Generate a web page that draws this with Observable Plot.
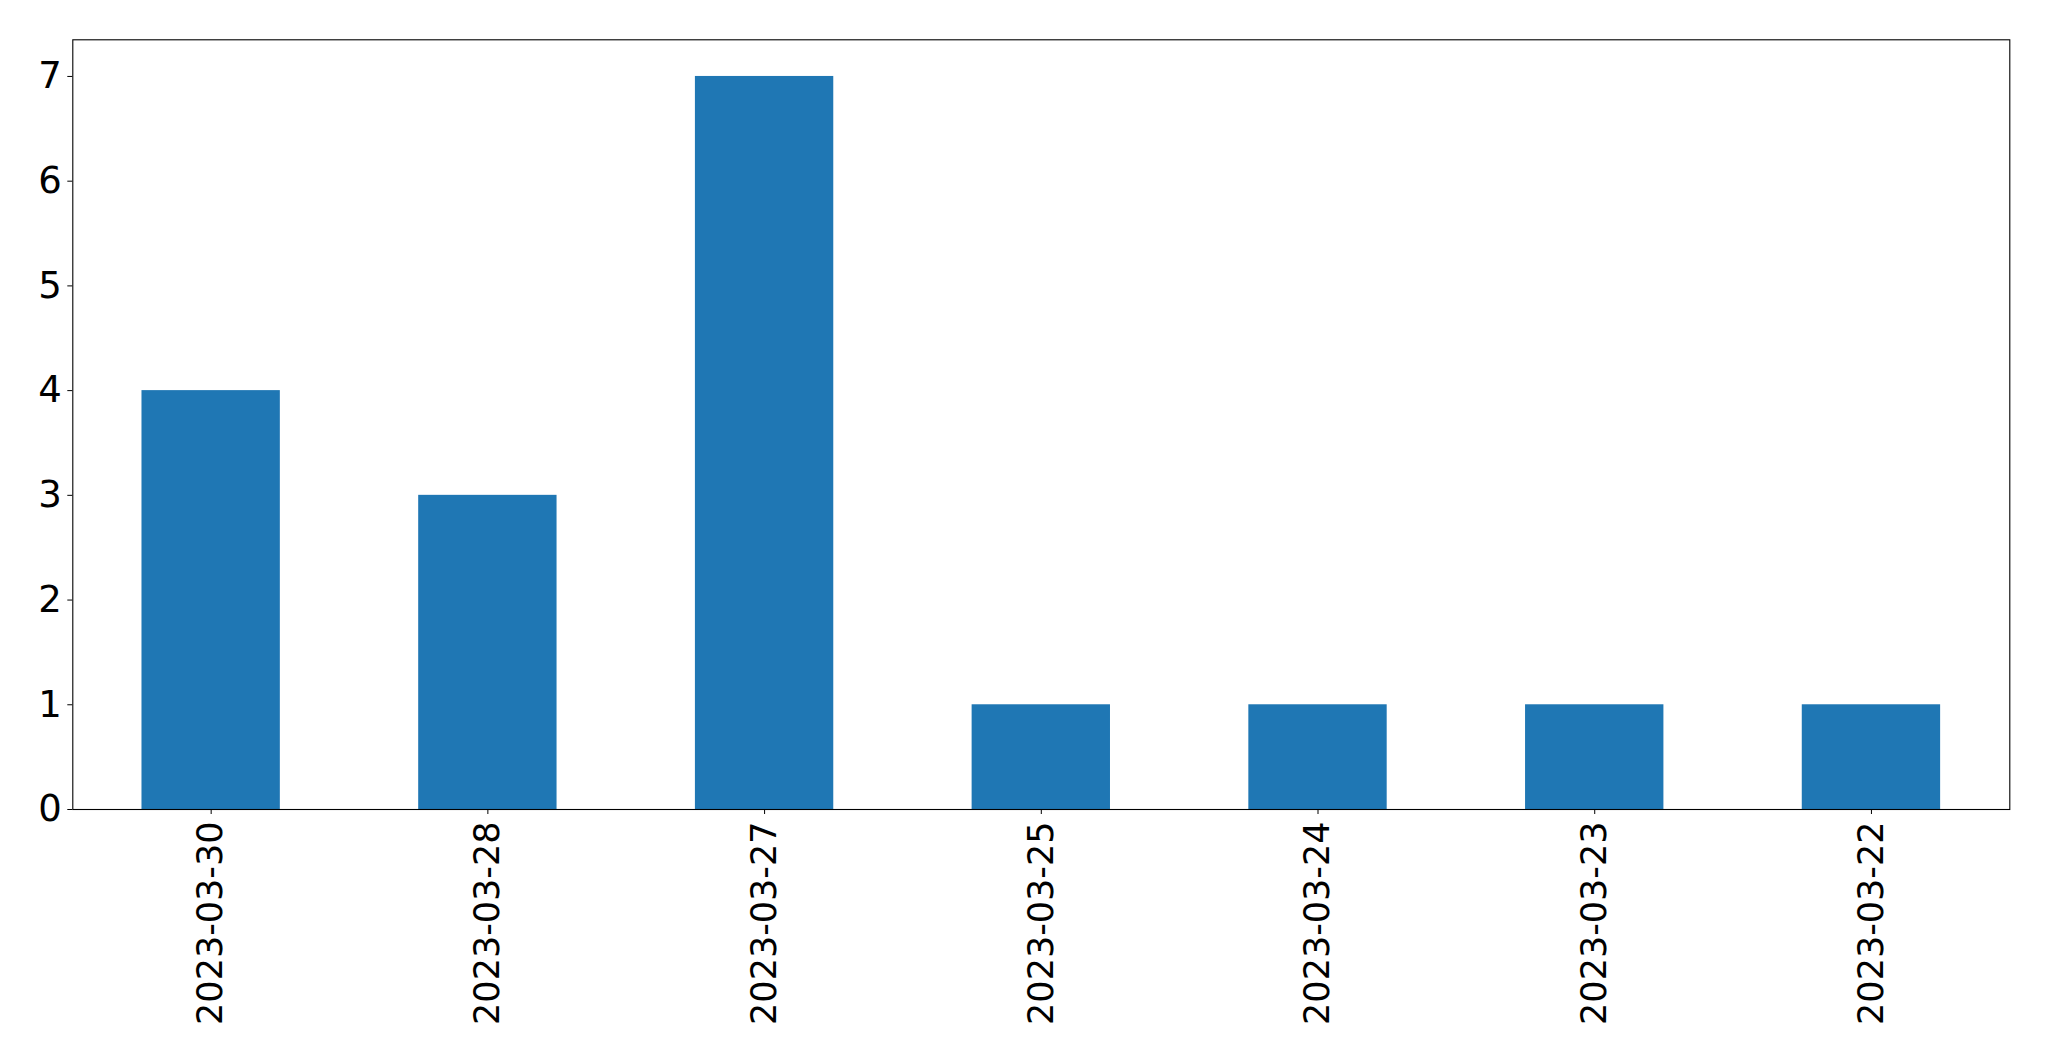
<!DOCTYPE html>
<html>
<head>
<meta charset="utf-8">
<script src="https://cdn.jsdelivr.net/npm/d3@7"></script>
<script src="https://cdn.jsdelivr.net/npm/@observablehq/plot@0.6"></script>
<style>
  html, body { margin: 0; padding: 0; background: #fff; }
</style>
</head>
<body>
<div id="chart"></div>
<script>
const dates = ["2023-03-30", "2023-03-28", "2023-03-27", "2023-03-25", "2023-03-24", "2023-03-23", "2023-03-22"];
const counts = [4, 3, 7, 1, 1, 1, 1];
const yTicks = [0, 1, 2, 3, 4, 5, 6, 7];

const data = dates.map((d, i) => ({date: d, count: counts[i]}));

const chart = Plot.plot({
  width: 2049,
  height: 1061,
  marginLeft: 72.3,
  marginRight: 39.7,
  marginTop: 39.3,
  marginBottom: 252,
  style: {fontFamily: "DejaVu Sans", fontSize: "36px", background: "#fff", color: "#000"},
  x: {domain: dates, paddingInner: 0.5, paddingOuter: 0.25, round: false, label: null},
  y: {domain: [0, 7.35], label: null},
  marks: [
    Plot.barY(data, {x: "date", y: "count", fill: "#1f77b4"}),
    Plot.axisY({ticks: yTicks, tickSize: 5, tickPadding: 6, fontSize: 37, label: null, tickFormat: d => String(d)}),
    Plot.axisX({tickSize: 5, tickPadding: 7, tickRotate: -90, fontSize: 35, label: null}),
    Plot.frame({stroke: "#000", strokeWidth: 1.1})
  ]
});
document.getElementById("chart").appendChild(chart);
</script>
</body>
</html>
